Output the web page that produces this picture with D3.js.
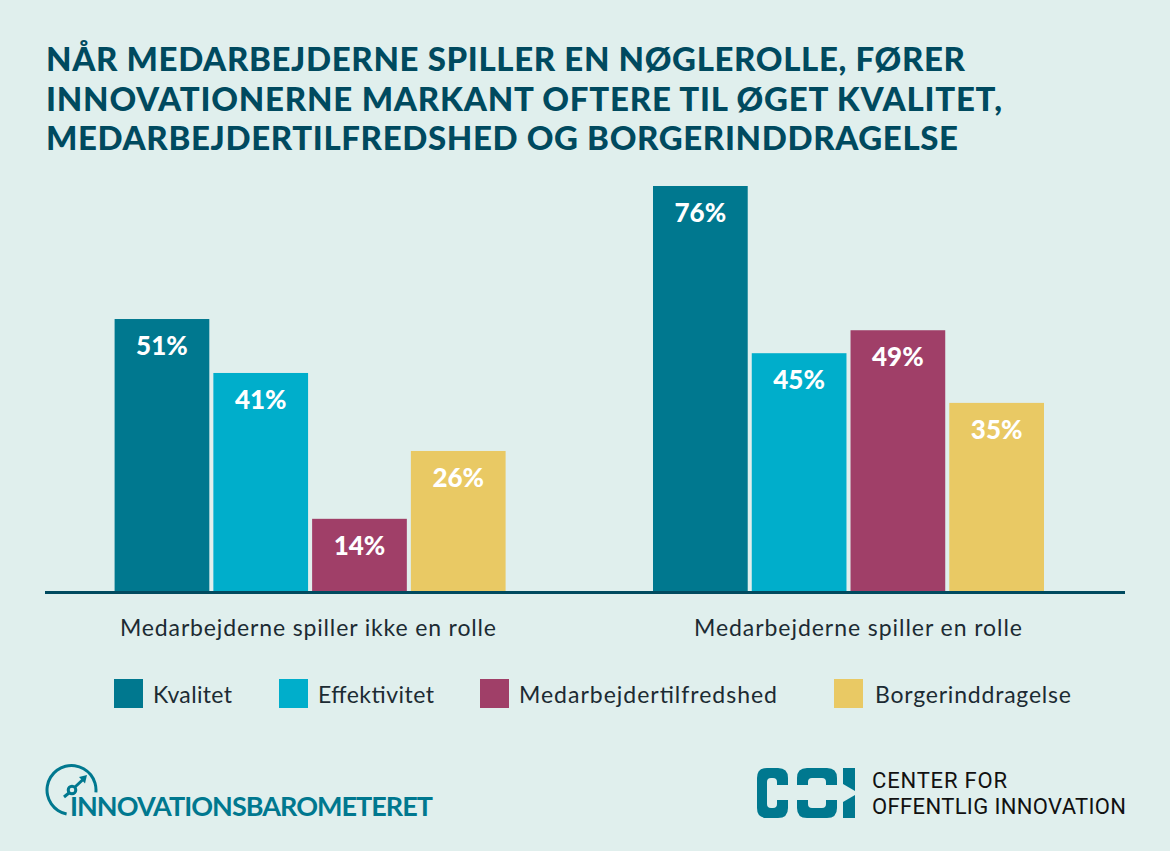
<!DOCTYPE html>
<html><head><meta charset="utf-8">
<script src="https://cdn.jsdelivr.net/npm/d3@7"></script>
<style>html,body{margin:0;padding:0;background:#e0efed}svg{display:block}text{font-family:Lato,sans-serif}</style>
</head><body><svg id="c" width="1170" height="851"></svg>
<script>
const titleLines=["NÅR MEDARBEJDERNE SPILLER EN NØGLEROLLE, FØRER","INNOVATIONERNE MARKANT OFTERE TIL ØGET KVALITET,","MEDARBEJDERTILFREDSHED OG BORGERINDDRAGELSE"];
const groups=["Medarbejderne spiller ikke en rolle","Medarbejderne spiller en rolle"];
const seriesNames=["Kvalitet","Effektivitet","Medarbejdertilfredshed","Borgerinddragelse"];
const seriesColors=["#00788f","#00aecb","#a03f68","#e9c964"];
const kvalitet=[51.1,76],effektivitet=[41,44.7],tilfredshed=[13.7,49],borger=[26.4,35.4];
const values=[kvalitet,effektivitet,tilfredshed,borger];
const svg=d3.select("#c");
const navy="#004a5f",teal="#00788f",ink="#1c2b33";
svg.append("rect").attr("width",1170).attr("height",851).attr("fill","#e0efed");
svg.selectAll(".t").data(titleLines).join("text").attr("x",46).attr("y",(d,i)=>71+i*39.5)
 .attr("font-size",33).attr("font-weight",900).attr("fill",navy).attr("textLength",(d,i)=>[919,956,912][i]).attr("lengthAdjust","spacing").text(d=>d);
const y=d3.scaleLinear().domain([0,76]).range([592,186]);
const x0=d3.scaleOrdinal().domain(groups).range([114.6,653]);
const x1=d3.scaleBand().domain(d3.range(4)).range([0,391]).paddingInner(0.041);
groups.forEach((g,gi)=>{
 const ga=svg.append("g").attr("transform",`translate(${x0(g)},0)`);
 values.forEach((s,i)=>{
  ga.append("rect").attr("x",x1(i)).attr("y",y(s[gi])).attr("width",x1.bandwidth()).attr("height",y(0)-y(s[gi])).attr("fill",seriesColors[i]);
  ga.append("text").attr("x",x1(i)+x1.bandwidth()/2).attr("y",y(s[gi])+36).attr("text-anchor","middle").attr("font-size",26).attr("font-weight",900).attr("fill","#fff").text(Math.round(s[gi])+"%");
 });
 svg.append("text").attr("x",[308,858][gi]).attr("y",636).attr("text-anchor","middle").attr("font-size",23).attr("fill",ink).attr("textLength",[376,328][gi]).attr("lengthAdjust","spacing").text(g);
});
svg.append("line").attr("x1",45).attr("x2",1125).attr("y1",592.5).attr("y2",592.5).attr("stroke",navy).attr("stroke-width",3);
const lx=[114,279,480,834],tx=[153,318,519,875],tw=[79,116,258,196];
seriesNames.forEach((n,i)=>{
 svg.append("rect").attr("x",lx[i]).attr("y",679).attr("width",29).attr("height",29).attr("fill",seriesColors[i]);
 svg.append("text").attr("x",tx[i]).attr("y",703).attr("font-size",23).attr("fill",ink).attr("textLength",tw[i]).attr("lengthAdjust","spacing").text(n);
});
// Innovationsbarometeret logo
const lg=svg.append("g");
const arc=d3.arc().innerRadius(23).outerRadius(26).startAngle(-2.94).endAngle(1.67);
lg.append("path").attr("transform","translate(71.5,790)").attr("d",arc()).attr("fill",teal);
lg.append("line").attr("x1",64).attr("y1",797).attr("x2",69.5).attr("y2",792.5).attr("stroke",teal).attr("stroke-width",3);
lg.append("line").attr("x1",75).attr("y1",787).attr("x2",83).attr("y2",779.5).attr("stroke",teal).attr("stroke-width",3);
lg.append("path").attr("d","M87 775L85 783.5L79 777Z").attr("fill",teal);
lg.append("circle").attr("cx",72).attr("cy",790).attr("r",3.8).attr("fill","none").attr("stroke",teal).attr("stroke-width",3);
lg.append("text").attr("x",70).attr("y",816).attr("font-size",27).attr("font-weight",700).attr("fill",teal).attr("textLength",363).attr("lengthAdjust","spacing").text("INNOVATIONSBAROMETERET");
// COI logo
const cg=svg.append("g").attr("fill",teal);
cg.append("path").attr("d","M767 768H778Q788 768 788 778V785H777V782Q777 778 773 778H771Q767 778 767 782V804Q767 808 771 808H773Q777 808 777 804V800H788V808Q788 818 778 818H767Q757 818 757 808V778Q757 768 767 768Z");
cg.append("path").attr("d","M807 768H827Q837 768 837 778V785H826V782Q826 778 822 778H812Q808 778 808 782V785H797V778Q797 768 807 768Z");
cg.append("path").attr("d","M797 800H808V804Q808 808 812 808H822Q826 808 826 804V800H837V808Q837 818 827 818H807Q797 818 797 808Z");
cg.append("path").attr("d","M843 768H855V791L843 784Z");
cg.append("path").attr("d","M855 795V818H843V802Z");
svg.append("text").attr("x",872).attr("y",788).attr("font-size",22).attr("fill","#111").attr("textLength",135).attr("lengthAdjust","spacing").style("font-family","Roboto").text("CENTER FOR");
svg.append("text").attr("x",872).attr("y",814).attr("font-size",22).attr("fill","#111").attr("textLength",254).attr("lengthAdjust","spacing").style("font-family","Roboto").text("OFFENTLIG INNOVATION");
</script></body></html>
